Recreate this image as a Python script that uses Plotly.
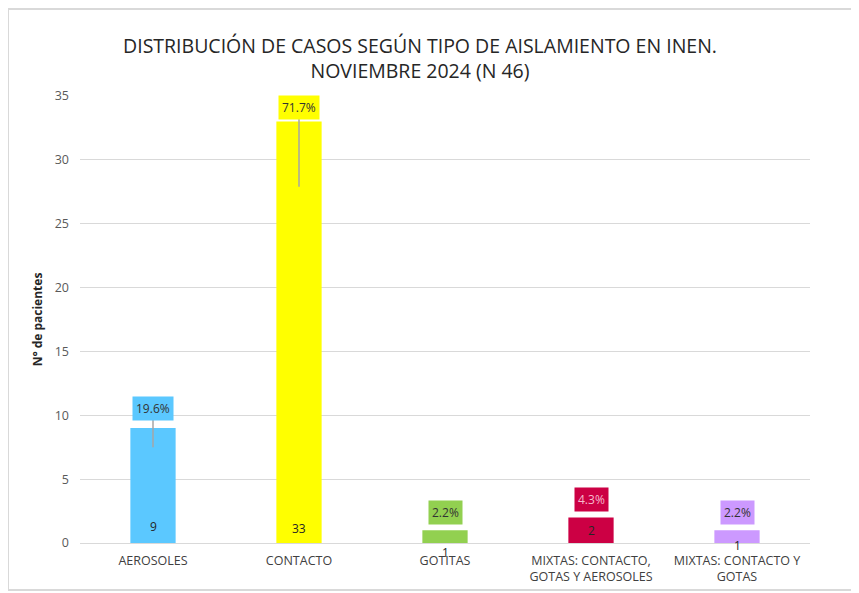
import plotly.graph_objects as go

categories = ["AEROSOLES", "CONTACTO", "GOTITAS",
              "MIXTAS: CONTACTO,<br>GOTAS Y AEROSOLES", "MIXTAS: CONTACTO Y<br>GOTAS"]
counts = [9, 33, 1, 2, 1]
percent_labels = ["19.6%", "71.7%", "2.2%", "4.3%", "2.2%"]
bar_colors = ["#5BC8FF", "#FFFF00", "#92D050", "#CC0044", "#CC99FF"]
pct_text_colors = ["#333333", "#333333", "#333333", "#F6B9CB", "#333333"]

# label placement (data units)
pct_label_y = [10.5, 34.1, 2.35, 3.37, 2.35]
val_label_y = [1.33, 1.17, -0.78, 1.0, -0.16]
leaders = [(9.63, 7.5), (33.3, 27.9), None, None, None]

Y_MAX = 35
FONT = "Open Sans"
W, H = 851, 585  # page body has an 8px margin
L, R, T, B = 72, 49, 88, 50

fig = go.Figure()
fig.add_trace(go.Bar(
    x=categories, y=counts, marker_color=bar_colors, width=0.31,
    marker_line_width=0, hoverinfo="x+y", showlegend=False,
))

annotations = []
shapes = []
for i, (c, v) in enumerate(zip(categories, counts)):
    annotations.append(dict(
        x=c, y=pct_label_y[i], xref="x", yref="y", text=percent_labels[i],
        showarrow=False, bgcolor=bar_colors[i], borderpad=3,
        xanchor="center", yanchor="middle",
        font=dict(family=FONT, size=12, color=pct_text_colors[i]),
    ))
    annotations.append(dict(
        x=c, y=val_label_y[i] / Y_MAX, xref="x", yref="paper", text=str(v),
        showarrow=False, xanchor="center", yanchor="middle",
        font=dict(family=FONT, size=12, color="#262626"),
    ))
    if leaders[i]:
        y0, y1 = leaders[i]
        shapes.append(dict(type="line", xref="x", yref="y", x0=i, x1=i,
                           y0=y0, y1=y1, line=dict(color="#A6A6A6", width=1.5)))

pw, ph = W - L - R, H - T - B
def px(xpix):
    return (xpix - L) / pw
def py(ypix):
    return (H - B - ypix) / ph

# outer frame
shapes.append(dict(type="rect", xref="paper", yref="paper",
                   x0=px(0), x1=px(W + 10), y0=py(582), y1=py(1),
                   line=dict(color="#D9D9D9", width=2), layer="below"))

fig.update_layout(
    width=W, height=H,
    margin=dict(l=L, r=R, t=T, b=B, autoexpand=False),
    paper_bgcolor="white", plot_bgcolor="white",
    title=dict(text="DISTRIBUCIÓN DE CASOS SEGÚN TIPO DE AISLAMIENTO EN INEN.<br>NOVIEMBRE 2024 (N 46)",
               x=(420 - 8) / W, xanchor="center", y=1 - 45 / H, yanchor="middle",
               font=dict(family=FONT, size=19.5, color="#262626")),
    annotations=annotations, shapes=shapes,
)
fig.update_xaxes(
    tickfont=dict(family=FONT, size=12.5, color="#404040"),
    showline=True, linecolor="#D9D9D9", linewidth=1, showgrid=False,
    range=[-0.5, 4.5], ticklabelstandoff=6, automargin=False,
)
fig.update_yaxes(
    range=[0, Y_MAX], dtick=5, showgrid=True, gridcolor="#D9D9D9", gridwidth=1,
    zeroline=False, tickfont=dict(family=FONT, size=12.5, color="#595959"),
    ticklabelstandoff=10, automargin=False,
    title=dict(text="<b>N° de pacientes</b>", standoff=9,
               font=dict(family=FONT, size=12, color="#262626")),
)

fig.write_html("out.html")
